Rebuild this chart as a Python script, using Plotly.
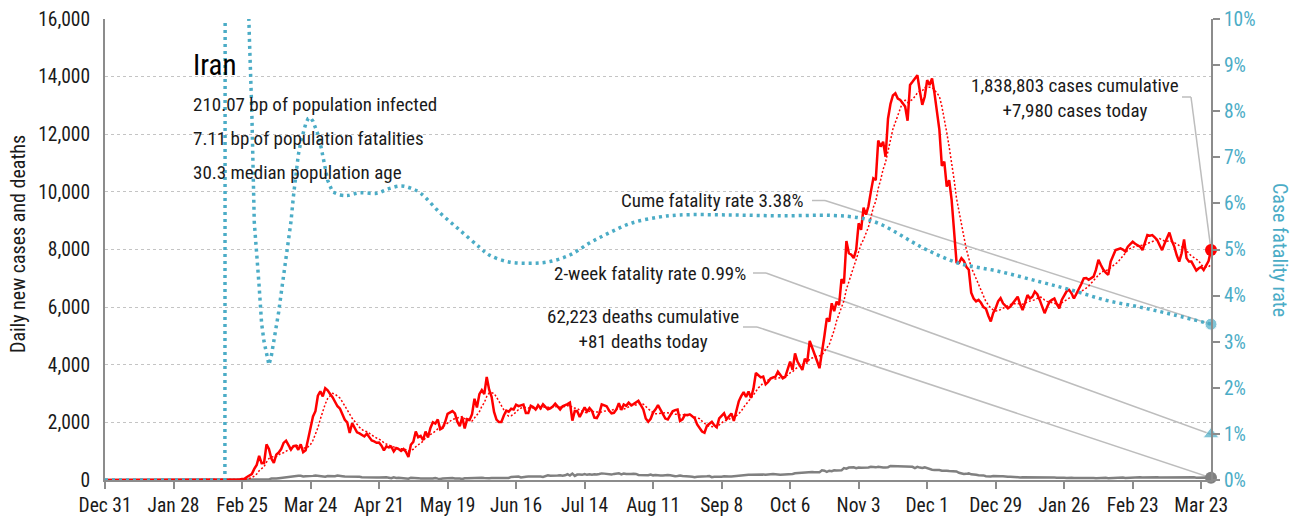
import pandas as pd
import plotly.graph_objects as go

# ---------------------------------------------------------------- data
start_date = "2019-12-31"

# Daily new confirmed cases, one value per day from 2019-12-31 to 2021-03-27
daily_cases = [
    0, 0, 0, 0, 0, 0, 0, 0, 0, 0,
    0, 0, 0, 0, 0, 0, 0, 0, 0, 0,
    0, 0, 0, 0, 0, 0, 0, 0, 0, 0,
    0, 0, 0, 0, 0, 0, 0, 0, 0, 0,
    0, 0, 0, 0, 0, 0, 0, 0, 0, 0,
    # Feb 19 - Feb 29
    2, 3, 13, 10, 15, 18, 34, 44, 106, 143, 205,
    # Mar
    385, 523, 835, 586, 591, 1234, 1076, 743, 595, 881,
    958, 1075, 1289, 1365, 1209, 1053, 1178, 1192, 1046, 1237,
    966, 1028, 1411, 1762, 2206, 2389, 2926, 3076, 2901, 3186, 3110,
    # Apr
    2987, 2875, 2715, 2560, 2483, 2274, 2089, 1997, 1634, 1972,
    1837, 1657, 1617, 1574, 1512, 1606, 1499, 1374, 1343, 1294,
    1297, 1194, 1030, 1168, 1134, 1153, 991, 1112, 1073, 1006,
    # May
    1073, 976, 802, 1223, 1323, 1680, 1485, 1529, 1383, 1683,
    1481, 1808, 2004, 1958, 2102, 1757, 1806, 2011, 2294, 2346,
    2392, 2311, 2023, 1869, 2180, 1787, 2111, 2081, 2282, 2819, 2516,
    # Jun
    2979, 3117, 2980, 3574, 3134, 2886, 2364, 2095, 2011, 2011,
    2238, 2410, 2369, 2472, 2449, 2612, 2563, 2596, 2615, 2322,
    2322, 2573, 2531, 2445, 2595, 2489, 2628, 2536, 2457, 2489,
    # Jul
    2549, 2652, 2560, 2450, 2560, 2613, 2637, 2686, 2062, 2397,
    2388, 2186, 2349, 2521, 2379, 2500, 2400, 2166, 2150, 2310,
    2625, 2580, 2560, 2414, 2316, 2333, 2447, 2667, 2434, 2621, 2574,
    # Aug
    2685, 2598, 2634, 2697, 2751, 2600, 2450, 2133, 2020, 2125,
    2345, 2450, 2598, 2444, 2262, 2131, 2100, 2245, 2385, 2425,
    2444, 2052, 2106, 2262, 2250, 2280, 2205, 2142, 1926, 1820, 1682,
    # Sep
    1640, 1880, 1951, 2020, 1900, 1830, 2140, 2220, 2313, 2103,
    2206, 2310, 2050, 2410, 2730, 2910, 3049, 2880, 3070, 2850,
    3170, 3712, 3650, 3560, 3590, 3320, 3400, 3521, 3560, 3582,
    # Oct
    3760, 3650, 3530, 3580, 3830, 4110, 3820, 4392, 4110, 3960,
    3822, 4206, 4100, 4830, 4620, 4400, 4130, 3880, 4400, 5000,
    5616, 5500, 6134, 5860, 6191, 6070, 6968, 6820, 8293, 7870, 7820,
    # Nov
    7700, 8000, 8910, 8680, 9450, 9210, 9500, 10010, 10470, 10410,
    11780, 11570, 11740, 11220, 12540, 13050, 13350, 13420, 13240, 13190,
    13070, 12960, 12470, 13710, 13820, 13950, 14050, 13500, 13020, 13300,
    # Dec
    13880, 13710, 13940, 13420, 12800, 12150, 10900, 11050, 10180, 10410,
    9720, 8600, 7560, 7540, 7700, 7600, 7400, 7300, 6500, 6300,
    6200, 6250, 6150, 6000, 5950, 5700, 5500, 5800, 5960, 6200, 6310,
    # Jan 2021
    6130, 6050, 5960, 6020, 6130, 6250, 6360, 6100, 5900, 6150,
    6420, 6300, 6360, 6540, 6450, 6250, 6000, 5790, 6000, 6190,
    6250, 6300, 6100, 5960, 6250, 6420, 6550, 6600, 6480, 6300, 6450,
    # Feb
    6600, 6800, 7000, 7010, 6950, 7000, 7060, 7300, 7640, 7460,
    7300, 7200, 7120, 7580, 7780, 7980, 8010, 8040, 8000, 7930,
    8100, 8200, 8270, 8200, 8160, 8100, 7980, 8250,
    # Mar
    8500, 8480, 8500, 8420, 8330, 8150, 7980, 8200, 8400, 8590,
    8300, 8100, 7800, 7580, 7870, 8350, 7700, 7580, 7580, 7400,
    7270, 7350, 7400, 7290, 7460, 7600, 7980,
]

# Daily deaths, same dates
daily_deaths = [
    0, 0, 0, 0, 0, 0, 0, 0, 0, 0,
    0, 0, 0, 0, 0, 0, 0, 0, 0, 0,
    0, 0, 0, 0, 0, 0, 0, 0, 0, 0,
    0, 0, 0, 0, 0, 0, 0, 0, 0, 0,
    0, 0, 0, 0, 0, 0, 0, 0, 0, 0,
    2, 0, 2, 1, 3, 4, 4, 3, 7, 8, 9,
    11, 12, 11, 15, 15, 17, 21, 49, 43, 54,
    63, 75, 85, 97, 113, 129, 135, 147, 149, 149,
    123, 129, 127, 122, 143, 157, 144, 139, 123, 117, 141,
    138, 124, 134, 158, 136, 133, 121, 121, 117, 122,
    125, 117, 111, 98, 94, 89, 92, 73, 87, 91,
    88, 94, 90, 93, 76, 60, 96, 71, 80, 71,
    63, 47, 47, 74, 78, 68, 65, 55, 48, 45,
    51, 48, 50, 71, 48, 35, 51, 58, 62, 69,
    66, 51, 58, 50, 34, 59, 57, 63, 50, 52, 57,
    64, 81, 70, 59, 63, 72, 74, 81, 70, 71,
    75, 71, 71, 107, 113, 115, 120, 87, 115, 116,
    119, 121, 119, 133, 134, 125, 109, 144, 162, 147,
    141, 148, 154, 163, 148, 163, 200, 153, 221, 142,
    188, 194, 179, 203, 179, 195, 183, 198, 188, 207,
    229, 221, 216, 215, 188, 212, 216, 235, 196, 226, 208,
    197, 208, 216, 212, 177, 178, 174, 156, 169, 189,
    161, 171, 153, 156, 157, 169, 172, 166, 144, 130,
    140, 159, 136, 126, 106, 119, 115, 100, 113, 117, 121,
    103, 130, 138, 98, 112, 109, 120, 114, 128, 114,
    122, 120, 130, 132, 155, 173, 160, 170, 178, 181,
    186, 183, 200, 208, 190, 180, 204, 203, 204, 207,
    193, 186, 186, 202, 197, 211, 206, 231, 239, 251,
    251, 267, 254, 272, 279, 269, 271, 272, 337, 322,
    279, 321, 304, 337, 331, 346, 335, 415, 393, 431, 434,
    440, 409, 431, 422, 421, 426, 434, 459, 453, 439,
    462, 436, 434, 437, 444, 486, 482, 475, 469, 482,
    479, 483, 475, 474, 456, 413, 458, 431, 420, 437,
    406, 389, 358, 351, 357, 346, 321, 330, 323, 314,
    300, 301, 297, 251, 221, 212, 213, 229, 196, 175,
    180, 166, 166, 160, 134, 123, 123, 138, 130, 127, 131,
    134, 114, 115, 115, 105, 101, 95, 91, 95, 96,
    91, 85, 90, 94, 86, 89, 90, 93, 85, 89,
    87, 83, 80, 84, 83, 80, 70, 85, 78, 73, 65,
    71, 66, 69, 74, 76, 67, 72, 58, 65, 75,
    73, 76, 64, 69, 74, 66, 80, 82, 86, 72,
    78, 87, 81, 93, 93, 94, 90, 94,
    99, 94, 98, 94, 92, 88, 89, 94, 91, 86,
    85, 84, 84, 87, 91, 85, 89, 91, 87, 95,
    76, 84, 81, 89, 83, 75, 81,
]

# Cumulative case fatality rate (%): daily through the first outbreak weeks
cfr_early_dates = [
    "2019-12-31", "2020-02-18", "2020-02-19", "2020-02-20",
    "2020-02-21", "2020-02-22", "2020-02-23", "2020-02-24", "2020-02-25",
    "2020-02-26", "2020-02-27", "2020-02-28", "2020-02-29", "2020-03-01",
    "2020-03-02", "2020-03-03", "2020-03-04", "2020-03-05", "2020-03-06",
    "2020-03-07", "2020-03-08", "2020-03-09", "2020-03-10", "2020-03-11",
    "2020-03-12", "2020-03-13", "2020-03-14", "2020-03-15", "2020-03-16",
    "2020-03-17", "2020-03-18", "2020-03-19", "2020-03-20", "2020-03-21",
    "2020-03-22", "2020-03-23", "2020-03-24", "2020-03-25", "2020-03-26",
    "2020-03-27", "2020-03-28", "2020-03-29", "2020-03-30", "2020-03-31",
    "2020-04-02", "2020-04-05",
]
cfr_early_values = [
    0, 0, 100, 40,
    22.2, 17.9, 18.6, 19.7, 16.8,
    13.7, 11.5, 9.6, 8.0, 5.6,
    5.0, 4.2, 3.4, 3.0, 2.75,
    2.5, 2.7, 3.0, 3.3, 3.65,
    4.05, 4.45, 4.85, 5.15, 5.6,
    6.15, 6.6, 7.05, 7.33, 7.55,
    7.72, 7.84, 7.86, 7.78, 7.65,
    7.5, 7.3, 7.05, 6.75, 6.5,
    6.25, 6.18,
]
# ... then sampled roughly weekly
cfr_late_dates = [
    "2020-04-05", "2020-04-08", "2020-04-13", "2020-04-20", "2020-04-25",
    "2020-04-30", "2020-05-04", "2020-05-08", "2020-05-16", "2020-05-24",
    "2020-06-01", "2020-06-05", "2020-06-13", "2020-06-21", "2020-06-29",
    "2020-07-08", "2020-07-16", "2020-07-24", "2020-08-02", "2020-08-13",
    "2020-08-22", "2020-09-11", "2020-10-02", "2020-10-23", "2020-11-04",
    "2020-11-11", "2020-11-18", "2020-11-25", "2020-12-01", "2020-12-14",
    "2020-12-30", "2021-01-16", "2021-01-29", "2021-02-12", "2021-02-26",
    "2021-03-12", "2021-03-27",
]
cfr_late_values = [
    6.18, 6.17, 6.23, 6.22, 6.32,
    6.38, 6.33, 6.22, 5.79, 5.42,
    5.05, 4.88, 4.73, 4.7, 4.73,
    4.88, 5.14, 5.36, 5.57, 5.7,
    5.75, 5.75, 5.73, 5.74, 5.68,
    5.57, 5.38, 5.16, 4.99, 4.7,
    4.53, 4.3, 4.12, 3.9, 3.75,
    3.58, 3.38,
]

tick_labels = [
    "Dec 31", "Jan 28", "Feb 25", "Mar 24", "Apr 21", "May 19", "Jun 16",
    "Jul 14", "Aug 11", "Sep 8", "Oct 6", "Nov 3", "Dec 1", "Dec 29",
    "Jan 26", "Feb 23", "Mar 23",
]

country = "Iran"
info_lines = [
    "210.07 bp of population infected",
    "7.11 bp of population fatalities",
    "30.3 median population age",
]
cases_cumulative = 1838803
cases_today = 7980
deaths_cumulative = 62223
deaths_today = 81
cume_fatality_rate = 3.38
two_week_fatality_rate = 0.99

# ---------------------------------------------------------------- styling
FONT = "Roboto Condensed, Noto Sans Condensed, DejaVu Sans Condensed, Roboto, sans-serif"
RED = "#ff0000"
TEAL = "#4bacc6"
GREY_LINE = "#808080"
AXIS_GREY = "#8c8c8c"
LEADER = "#bdbdbd"
TEXT = "#1a1a1a"
TXT = 19          # callout / info text size
TICK = 19.5
TITLE = 20

W, H = 1297, 520
L, R, T, B = 105, 1211, 19, 480      # plot-area edges in pixels
Y_MAX, Y2_MAX = 16000, 10

dates = pd.date_range(start_date, periods=len(daily_cases), freq="D")
avg7 = pd.Series(daily_cases).rolling(7, min_periods=1).mean()
x_start, x_end = dates[0], dates[-1]
tick_vals = pd.date_range(start_date, periods=len(tick_labels), freq="28D")


def px_date(px):
    """Date at a horizontal pixel position inside the plot area."""
    return x_start + (px - L) / (R - L) * (x_end - x_start)


def px_left(py):
    return (B - py) / (B - T) * Y_MAX


def px_right(py):
    return (B - py) / (B - T) * Y2_MAX


def paper_x(px):
    return (px - L) / (R - L)


def paper_y(py):
    return (B - py) / (B - T)


fig = go.Figure()

fig.add_trace(go.Scatter(
    x=dates, y=daily_deaths, mode="lines", name="Daily deaths",
    line=dict(color=GREY_LINE, width=2.5), hoverinfo="skip"))
fig.add_trace(go.Scatter(
    x=dates, y=avg7, mode="lines", name="7-day average",
    line=dict(color=RED, width=1.5, dash="2px,2px"), hoverinfo="skip"))
fig.add_trace(go.Scatter(
    x=dates, y=daily_cases, mode="lines", name="Daily cases",
    line=dict(color=RED, width=2.5), hoverinfo="skip"))

cfr_line = dict(color=TEAL, width=3.5, dash="3px,4px")
fig.add_trace(go.Scatter(
    x=pd.to_datetime(cfr_early_dates), y=cfr_early_values, mode="lines",
    yaxis="y2", name="Case fatality rate", line=cfr_line, hoverinfo="skip"))
fig.add_trace(go.Scatter(
    x=pd.to_datetime(cfr_late_dates), y=cfr_late_values, mode="lines",
    yaxis="y2", name="Case fatality rate", line=dict(cfr_line, shape="spline"),
    hoverinfo="skip"))

# leader lines: short horizontal stub beside the text, then a diagonal to the marker
leaders = [
    # (stub start px, elbow px, y px, axis, end value)
    (1182, 1191, 97, "y", cases_today),
    (812, 825, 200.5, "y2", cume_fatality_rate),
    (753, 766, 273, "y2", two_week_fatality_rate),
    (743, 757, 327, "y", deaths_today),
]
shapes = []
for x0, x1, yy, ax, end_val in leaders:
    conv = px_left if ax == "y" else px_right
    shapes.append(dict(type="line", xref="x", yref=ax, layer="below",
                       x0=px_date(x0), x1=px_date(x1), y0=conv(yy), y1=conv(yy),
                       line=dict(color=LEADER, width=1.5)))
    shapes.append(dict(type="line", xref="x", yref=ax, layer="below",
                       x0=px_date(x1), x1=x_end, y0=conv(yy), y1=end_val,
                       line=dict(color=LEADER, width=1.5)))

# end-of-series markers
fig.add_trace(go.Scatter(
    x=[x_end, x_end], y=[cases_today, deaths_today], mode="markers",
    marker=dict(color=[RED, GREY_LINE], size=12, symbol="circle"),
    cliponaxis=False, hoverinfo="skip"))
fig.add_trace(go.Scatter(
    x=[x_end, x_end], y=[cume_fatality_rate, two_week_fatality_rate],
    mode="markers", yaxis="y2",
    marker=dict(color=TEAL, size=[12, 14], symbol=["circle", "triangle-up"]),
    cliponaxis=False, hoverinfo="skip"))

annotations = [
    dict(text=f"{cases_cumulative:,} cases cumulative<br>+{cases_today:,} cases today",
         x=paper_x(1075), y=paper_y(98), xanchor="center", yanchor="middle"),
    dict(text=f"Cume fatality rate {cume_fatality_rate:.2f}%",
         x=paper_x(806), y=paper_y(200.5), xanchor="right", yanchor="middle"),
    dict(text=f"2-week fatality rate {two_week_fatality_rate:.2f}%",
         x=paper_x(748), y=paper_y(273), xanchor="right", yanchor="middle"),
    dict(text=f"{deaths_cumulative:,} deaths cumulative<br>+{deaths_today} deaths today",
         x=paper_x(643), y=paper_y(329), xanchor="center", yanchor="middle"),
    dict(text=country, x=paper_x(191), y=paper_y(65), xanchor="left",
         yanchor="middle", font=dict(size=29, color="#000000", family=FONT)),
]
for i, line in enumerate(info_lines):
    annotations.append(dict(text=line, x=paper_x(191), y=paper_y(104 + 34.5 * i),
                            xanchor="left", yanchor="middle"))
for a in annotations:
    a.setdefault("font", dict(size=TXT, color=TEXT, family=FONT))
    a.update(xref="paper", yref="paper", showarrow=False, align="center")

# axis titles
annotations.append(dict(text="Daily new cases and deaths", xref="paper", yref="paper",
                        x=paper_x(18), y=paper_y(244), textangle=-90, showarrow=False,
                        xanchor="center", yanchor="middle",
                        font=dict(size=TITLE, color=TEXT, family=FONT)))
annotations.append(dict(text="Case fatality rate", xref="paper", yref="paper",
                        x=paper_x(1280), y=paper_y(250), textangle=90, showarrow=False,
                        xanchor="center", yanchor="middle",
                        font=dict(size=TITLE, color=TEAL, family=FONT)))

fig.update_layout(
    width=W, height=H,
    margin=dict(l=L, r=W - R, t=T, b=H - B, autoexpand=False),
    paper_bgcolor="white", plot_bgcolor="white",
    showlegend=False,
    font=dict(family=FONT, size=TICK, color=TEXT),
    shapes=shapes,
    annotations=annotations,
    xaxis=dict(
        type="date", range=[x_start, x_end], automargin=False,
        tickvals=tick_vals, ticktext=tick_labels,
        showgrid=False, zeroline=False,
        showline=True, linecolor=AXIS_GREY, linewidth=2,
        ticks="outside", ticklen=7, tickwidth=1.5, tickcolor=AXIS_GREY,
        tickfont=dict(size=TICK, color=TEXT, family=FONT),
    ),
    yaxis=dict(
        range=[0, Y_MAX], dtick=2000, tickformat=",", automargin=False,
        showgrid=True, gridcolor="#c4c4c4", griddash="dot", gridwidth=1,
        zeroline=False, showline=True, linecolor=AXIS_GREY, linewidth=2,
        ticks="outside", ticklen=9, tickcolor="rgba(0,0,0,0)",
        tickfont=dict(size=TICK, color=TEXT, family=FONT),
    ),
    yaxis2=dict(
        overlaying="y", side="right", range=[0, Y2_MAX], dtick=1, automargin=False,
        ticksuffix="%", showgrid=False, zeroline=False,
        showline=True, linecolor=AXIS_GREY, linewidth=2,
        ticks="outside", ticklen=7, tickwidth=1.5, tickcolor=AXIS_GREY,
        tickfont=dict(size=TICK, color=TEAL, family=FONT),
    ),
)

fig.write_html("out.html")
